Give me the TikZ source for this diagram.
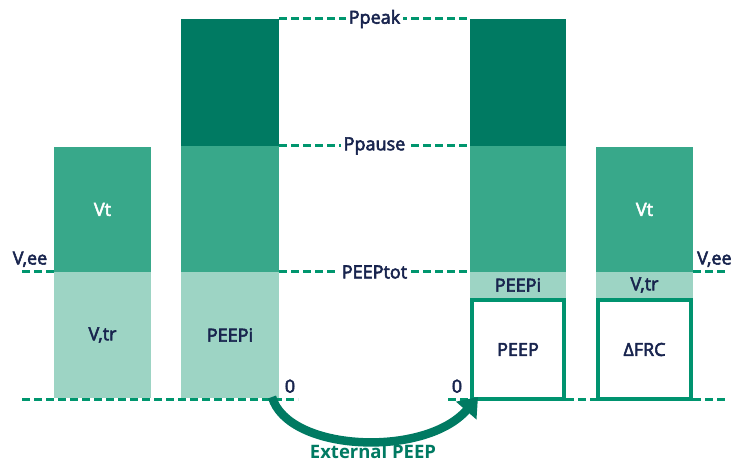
\documentclass[tikz,border=0pt]{standalone}
\usepackage{fontspec}
\setmainfont{Open Sans}
\newfontfamily\labelfont{Open Sans}[FakeBold=3]
\usetikzlibrary{arrows.meta}
\definecolor{gdark}{RGB}{0,122,98}
\definecolor{gmid}{RGB}{56,168,138}
\definecolor{glight}{RGB}{157,212,196}
\definecolor{gline}{RGB}{0,150,110}
\definecolor{gframe}{RGB}{0,147,111}
\definecolor{navy}{RGB}{24,36,78}
\tikzset{
  txt/.style={font=\labelfont\fontsize{18}{20}\selectfont, text=navy},
  seg/.style={rectangle, inner sep=0pt, outer sep=0pt, anchor=north west,
    minimum width=97pt, txt},
  whitetext/.style={text=white},
  framebox/.style={seg, draw=gframe, line width=4pt, fill=white},
  guide/.style={draw=gline, line width=3pt, dash pattern=on 8pt off 4pt},
  level/.style={fill=white, inner sep=3pt, txt},
  tag/.style={inner sep=0pt, txt},
}
\begin{document}
\begin{tikzpicture}[x=1pt, y=-1pt]
\useasboundingbox (0,0) rectangle (737,465);

% baseline guide (behind the bars)
\coordinate (baseL) at (22,399);
\coordinate (baseA) at (298,399);
\coordinate (baseB) at (448,399);
\coordinate (baseR) at (725,399);
\draw[guide] (baseL) -- (baseA);

% bar 1
\node[seg, fill=gmid, whitetext, minimum height=125pt] (a1) at (54,147) {Vt};
\node[seg, fill=glight, minimum height=126pt] (a2) at (54,272) {V,tr};

% bar 2
\node[seg, minimum width=98pt, fill=gdark, minimum height=127pt] (b1) at (181,19) {};
\node[seg, minimum width=98pt, fill=gmid, minimum height=126pt] (b2) at (181,146) {};
\node[seg, minimum width=98pt, fill=glight, minimum height=126pt] (b3) at (181,272) {PEEPi};

% bar 3
\node[seg, minimum width=96pt, fill=gdark, minimum height=127pt] (c1) at (470,19) {};
\node[seg, minimum width=96pt, fill=gmid, minimum height=126pt] (c2) at (470,146) {};
\node[seg, minimum width=96pt, fill=glight, minimum height=26pt] (c3) at (470,272) {PEEPi};
\node[framebox, minimum width=92pt, minimum height=99pt] (c4) at (472,300) {PEEP};

% bar 4
\node[seg, fill=gmid, whitetext, minimum height=125pt] (d1) at (596,147) {Vt};
\node[seg, fill=glight, minimum height=26pt] (d2) at (596,272) {V,tr};
\node[framebox, minimum width=93pt, minimum height=99pt] (d3) at (598,300) {ΔFRC};

% pressure levels between bars 2 and 3
\draw[guide] (b1.north east) -- (c1.north west)
  node[level, midway] (ppeak) {Ppeak};
\draw[guide] (b2.north east) -- (c2.north west)
  node[level, midway] (ppause) {Ppause};
\draw[guide] (b3.north east) -- (c3.north west)
  node[level, midway] (peeptot) {PEEPtot};

% end-expiratory volume marks
\coordinate (veeL) at (22,272);
\coordinate (veeR) at (725,272);
\draw[guide] (veeL) -- (a2.north west);
\draw[guide] (d2.north east) -- (veeR);
\node[tag, anchor=south] (veel) at (30,267) {V,ee};
\node[tag, anchor=south west] (veer) at (697,267) {V,ee};

% baseline pieces on the right
\draw[guide] (baseB) -- ([xshift=-2pt]c4.west |- baseB);
\draw[guide] ([xshift=2pt]c4.east |- baseB) -- ([xshift=-2pt]d3.west |- baseB);
\draw[guide] ([xshift=2pt]d3.east |- baseB) -- (baseR);

% zero marks
\node[tag, anchor=south] (zeroA) at (290,393) {0};
\node[tag, anchor=south] (zeroB) at (457,393) {0};

% external PEEP arrow
\coordinate (arrS) at (272,397);
\coordinate (arrE) at (478,397);
\draw[draw=gdark, line width=8.5pt, -{Triangle[length=18pt,width=26pt]}]
  (arrS) .. controls (288,452) and (425,458) .. (arrE);
\node[font=\fontsize{18.5}{20}\selectfont\bfseries, text=gdark, inner sep=0pt] (ext) at (373,452) {External PEEP};

\end{tikzpicture}
\end{document}
